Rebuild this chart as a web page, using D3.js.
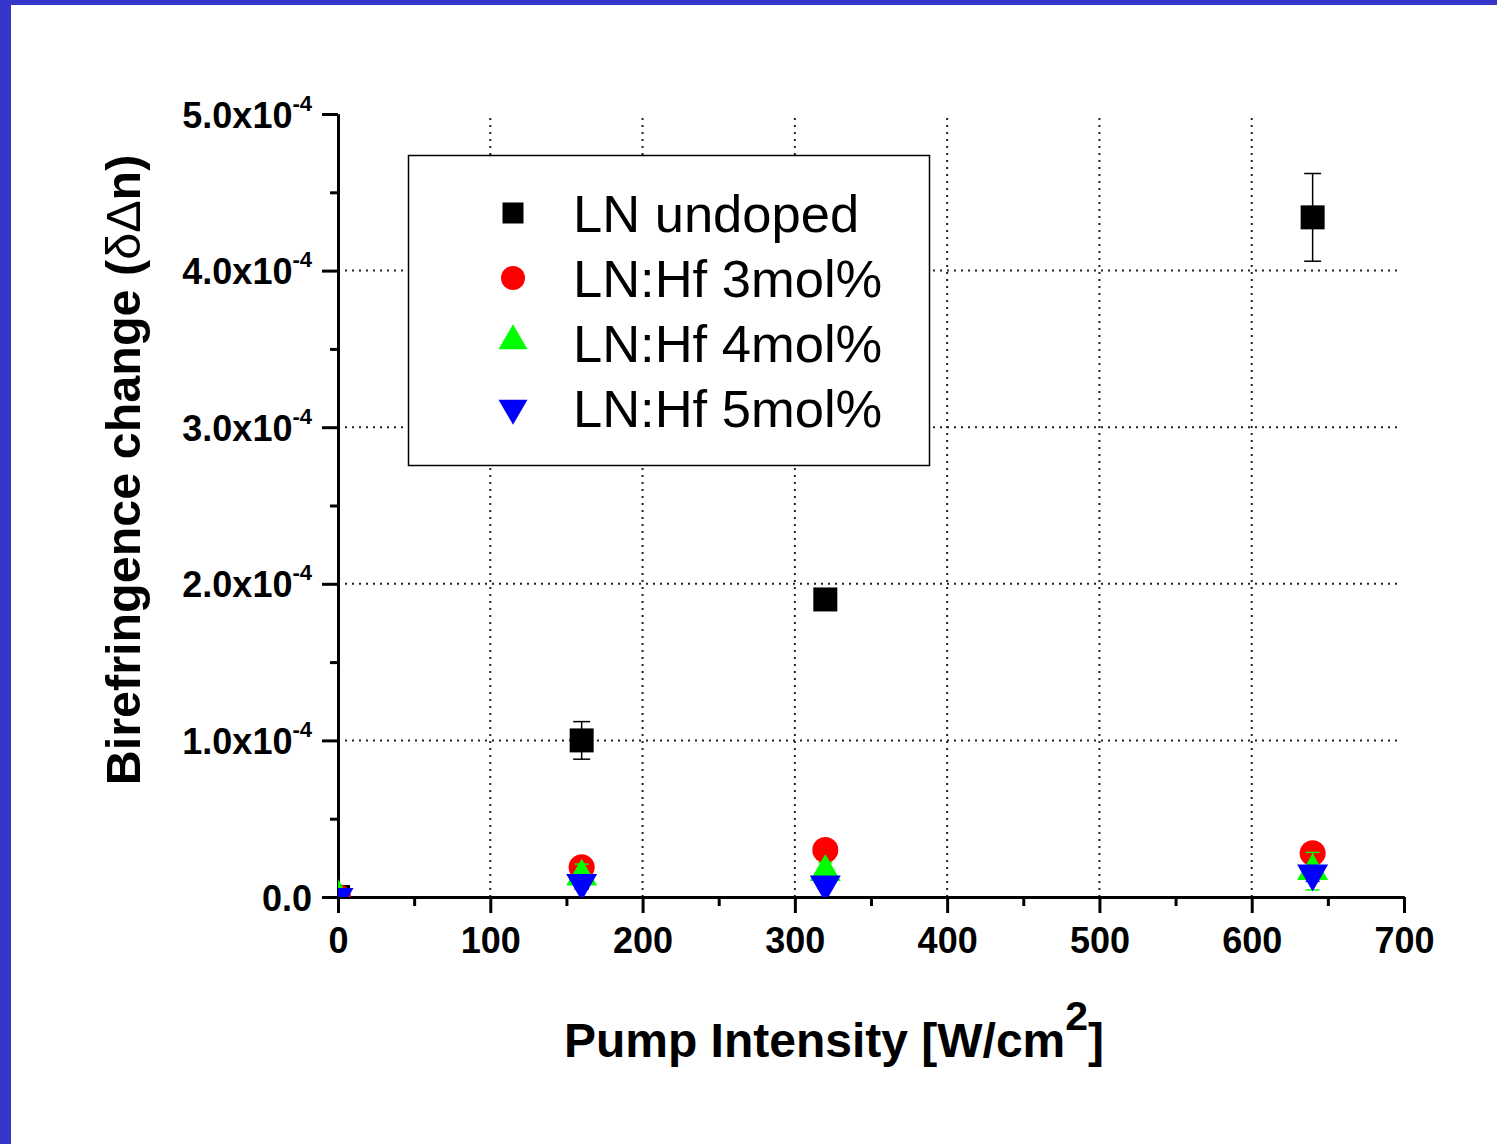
<!DOCTYPE html>
<html><head><meta charset="utf-8">
<script src="https://cdn.jsdelivr.net/npm/d3@7"></script>
<style>body{margin:0;background:#fff;overflow:hidden}</style>
</head><body>
<svg id="chart" width="1497" height="1144"></svg>
<script>
// ---- data ----
const intensities = [0, 160, 320, 640];
const seriesNames = ["LN undoped", "LN:Hf 3mol%", "LN:Hf 4mol%", "LN:Hf 5mol%"];
const undoped    = [0, 1.00e-4, 1.90e-4, 4.34e-4];
const undopedErr = [0, 0.12e-4, 0.05e-4, 0.28e-4];
const hf3        = [0, 0.19e-4, 0.30e-4, 0.28e-4];
const hf3Err     = [0, 0.02e-4, 0.02e-4, 0.02e-4];
const hf4        = [0, 0.13e-4, 0.16e-4, 0.165e-4];
const hf4Err     = [0, 0.08e-4, 0.06e-4, 0.12e-4];
const hf5        = [0, 0.09e-4, 0.08e-4, 0.15e-4];
const hf5Err     = [0, 0.04e-4, 0.03e-4, 0.05e-4];
const xMajorTicks = [0, 100, 200, 300, 400, 500, 600, 700];
const xMinorTicks = [50, 150, 250, 350, 450, 550, 650];
const yMajorTicks = [0, 1e-4, 2e-4, 3e-4, 4e-4, 5e-4];
const yMinorTicks = [0.5e-4, 1.5e-4, 2.5e-4, 3.5e-4, 4.5e-4];
const yTickMantissa = ["0.0", "1.0x10", "2.0x10", "3.0x10", "4.0x10", "5.0x10"];
const yTickExponent = ["", "-4", "-4", "-4", "-4", "-4"];
const xGrid = [100, 200, 300, 400, 500, 600];
const yGrid = [1e-4, 2e-4, 3e-4, 4e-4];

const series = [
  {name: seriesNames[0], values: undoped, err: undopedErr, color: "#000000", sym: d3.symbolSquare, size: 576, lsize: 441, rot: 0, cap: 17},
  {name: seriesNames[1], values: hf3, err: hf3Err, color: "#ff0000", sym: d3.symbolCircle, size: 531, lsize: 452, rot: 0, cap: 14},
  {name: seriesNames[2], values: hf4, err: hf4Err, color: "#00ff00", sym: d3.symbolTriangle, size: 416, lsize: 364, rot: 0, cap: 14},
  {name: seriesNames[3], values: hf5, err: hf5Err, color: "#0000ff", sym: d3.symbolTriangle, size: 416, lsize: 364, rot: 180, cap: 14}
];

const FONT = "'Liberation Sans', Arial, Helvetica, sans-serif";
const svg = d3.select("#chart").style("font-family", FONT);

// frame of the slide
svg.append("rect").attr("x", 0).attr("y", 0).attr("width", 1497).attr("height", 1144).attr("fill", "#fff");
svg.append("rect").attr("x", 0).attr("y", 0).attr("width", 1497).attr("height", 5).attr("fill", "#3535c9");
svg.append("rect").attr("x", 0).attr("y", 0).attr("width", 11).attr("height", 1144).attr("fill", "#3535c9");

const x = d3.scaleLinear().domain([0, 700]).range([338, 1404]);
const y = d3.scaleLinear().domain([0, 5e-4]).range([897, 114]);

// grid
const grid = svg.append("g").attr("stroke", "#222").attr("stroke-width", 2).attr("stroke-dasharray", "2,5");
grid.selectAll("line.h").data(yGrid).join("line").attr("class", "h")
  .attr("x1", x(0)).attr("x2", x(700) - 4).attr("y1", d => y(d)).attr("y2", d => y(d));
grid.selectAll("line.v").data(xGrid).join("line").attr("class", "v")
  .attr("x1", d => x(d)).attr("x2", d => x(d)).attr("y1", y(0)).attr("y2", y(5e-4));

// axes
const xMinor = svg.append("g").attr("transform", `translate(0,${y(0)})`)
  .call(d3.axisBottom(x).tickValues(xMinorTicks).tickSize(9).tickSizeOuter(0).tickFormat(""));
const xMajor = svg.append("g").attr("transform", `translate(0,${y(0)})`)
  .call(d3.axisBottom(x).tickValues(xMajorTicks).tickSize(16).tickSizeOuter(0).tickPadding(14).tickFormat(d3.format("d")));
const yMinor = svg.append("g").attr("transform", `translate(${x(0)},0)`)
  .call(d3.axisLeft(y).tickValues(yMinorTicks).tickSize(8).tickSizeOuter(0).tickFormat(""));
const yMajor = svg.append("g").attr("transform", `translate(${x(0)},0)`)
  .call(d3.axisLeft(y).tickValues(yMajorTicks).tickSize(16).tickSizeOuter(0).tickFormat(""));

[xMinor, xMajor, yMinor, yMajor].forEach(g => {
  g.select(".domain").attr("stroke", "#000").attr("stroke-width", 3);
  g.selectAll(".tick line").attr("stroke", "#000").attr("stroke-width", 3);
});
xMajor.selectAll(".tick text")
  .attr("fill", "#000").attr("font-size", 36).attr("font-weight", "bold")
  .attr("font-family", FONT).attr("y", 56).attr("dy", 0);

yMajor.selectAll(".tick").each(function(d, i) {
  const t = d3.select(this).append("text")
    .attr("x", -26).attr("y", 13).attr("text-anchor", "end")
    .attr("fill", "#000").attr("font-weight", "bold").attr("font-family", FONT);
  t.append("tspan").attr("font-size", 36).text(yTickMantissa[i]);
  if (yTickExponent[i]) {
    t.append("tspan").attr("font-size", 22).attr("dy", -17).text(yTickExponent[i]);
  }
});

// axis titles
svg.append("text")
  .attr("transform", "translate(140,470) rotate(-90)")
  .attr("text-anchor", "middle").attr("font-size", 48.5).attr("font-weight", "bold").attr("fill", "#000")
  .call(t => {
    t.append("tspan").text("Birefringence change (");
    t.append("tspan").attr("font-weight", "normal").text("δΔ");
    t.append("tspan").text("n)");
  });
svg.append("text")
  .attr("x", 834).attr("y", 1057)
  .attr("text-anchor", "middle").attr("font-size", 48).attr("font-weight", "bold").attr("fill", "#000")
  .call(t => {
    t.append("tspan").text("Pump Intensity [W/cm");
    t.append("tspan").attr("font-size", 41).attr("dy", -27).text("2");
    t.append("tspan").attr("dy", 27).text("]");
  });

// data markers
svg.append("clipPath").attr("id", "plotclip").append("rect")
  .attr("x", x(0)).attr("y", y(5e-4) - 20).attr("width", x(700) - x(0) + 20).attr("height", y(0) - y(5e-4) + 20);
const plot = svg.append("g").attr("clip-path", "url(#plotclip)");

series.forEach(s => {
  const g = plot.append("g");
  const pts = intensities.map((xi, i) => ({x: xi, v: s.values[i], e: s.err[i]}));
  g.selectAll("path.m").data(pts).join("path").attr("class", "m")
    .attr("d", d3.symbol().type(s.sym).size(s.size)())
    .attr("transform", d => `translate(${x(d.x)},${y(d.v)}) rotate(${s.rot})`)
    .attr("fill", s.color);
  const eb = g.selectAll("g.eb").data(pts.filter(d => d.e > 0)).join("g").attr("class", "eb")
    .attr("stroke", s.color).attr("stroke-width", 1.5);
  eb.append("line").attr("x1", d => x(d.x)).attr("x2", d => x(d.x))
    .attr("y1", d => y(d.v + d.e)).attr("y2", d => y(d.v - d.e));
  eb.append("line").attr("x1", d => x(d.x) - s.cap / 2).attr("x2", d => x(d.x) + s.cap / 2)
    .attr("y1", d => y(d.v + d.e)).attr("y2", d => y(d.v + d.e));
  eb.append("line").attr("x1", d => x(d.x) - s.cap / 2).attr("x2", d => x(d.x) + s.cap / 2)
    .attr("y1", d => y(d.v - d.e)).attr("y2", d => y(d.v - d.e));
});

// legend
const lg = svg.append("g");
lg.append("rect").attr("x", 408.5).attr("y", 155.5).attr("width", 521).attr("height", 310)
  .attr("fill", "#fff").attr("stroke", "#000").attr("stroke-width", 1.5);
const rowY = [213, 278, 341, 408];
series.forEach((s, i) => {
  lg.append("path").attr("d", d3.symbol().type(s.sym).size(s.lsize)())
    .attr("transform", `translate(513,${rowY[i]}) rotate(${s.rot})`).attr("fill", s.color);
  lg.append("text").attr("x", 573).attr("y", [232, 297, 362, 427][i])
    .attr("font-size", 52.5).attr("fill", "#000").text(s.name);
});
</script>
</body></html>
